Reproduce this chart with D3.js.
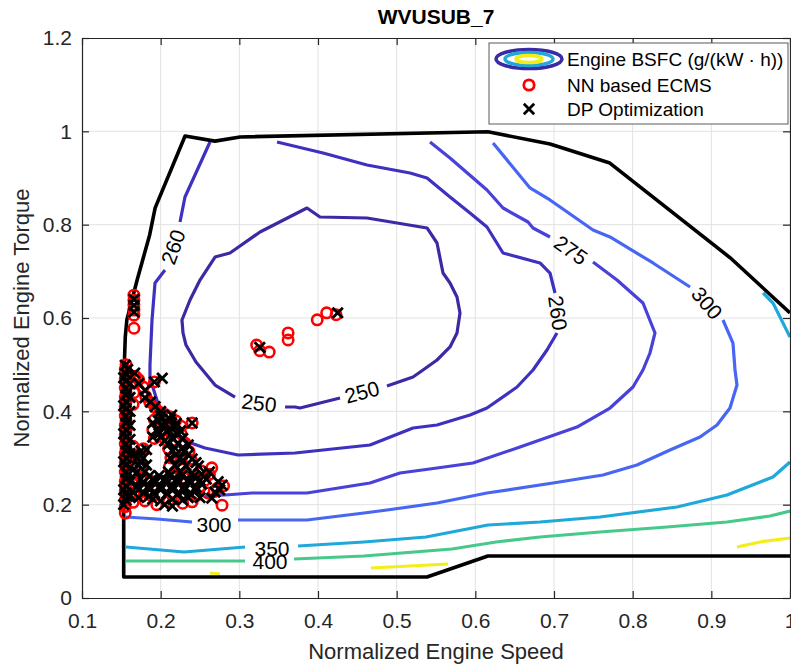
<!DOCTYPE html>
<html>
<head>
<meta charset="utf-8">
<script src="https://cdn.jsdelivr.net/npm/d3@7"></script>
<style>
  body { margin: 0; background: #fff; }
  svg { font-family: "Liberation Sans", Arial, Helvetica, sans-serif; }
</style>
</head>
<body>
<svg id="chart" width="791" height="666"></svg>
<script>
// ---- data (normalized speed, normalized torque) ----
const xTicks = [0.1, 0.2, 0.3, 0.4, 0.5, 0.6, 0.7, 0.8, 0.9, 1];
const yTicks = [0, 0.2, 0.4, 0.6, 0.8, 1, 1.2];

// engine max/min torque envelope
const envelope = [
  [1.0, 0.09], [0.616, 0.09], [0.5385, 0.045], [0.153, 0.045], [0.153, 0.25],
  [0.154, 0.51], [0.155, 0.559], [0.157, 0.596], [0.1636, 0.639], [0.17, 0.681],
  [0.186, 0.778], [0.193, 0.836], [0.231, 0.99], [0.269, 0.979], [0.301, 0.988],
  [0.616, 0.999], [0.695, 0.973], [0.771, 0.932], [0.924, 0.729], [1.0, 0.611]
];

// BSFC contour lines, split where the inline labels sit
const bsfc250 = [
  [[0.3581, 0.4093], [0.3708, 0.4093], [0.3771, 0.4071], [0.428, 0.4286]],
  [[0.4877, 0.4543], [0.5208, 0.4736], [0.5335, 0.4886], [0.5513, 0.51], [0.5678, 0.5379],
   [0.5767, 0.5679], [0.5805, 0.6107], [0.5767, 0.645], [0.5678, 0.675], [0.5589, 0.6964],
   [0.5513, 0.7607], [0.5386, 0.7929], [0.4623, 0.8143], [0.4025, 0.8164], [0.386, 0.8357],
   [0.3263, 0.7843], [0.2881, 0.7393], [0.2691, 0.7307], [0.25, 0.6814], [0.2373, 0.6386],
   [0.2271, 0.5957], [0.2284, 0.5679], [0.2322, 0.5421], [0.2449, 0.5057], [0.2691, 0.4564],
   [0.2945, 0.4307]]
];
const bsfc260 = [
  [[0.2627, 0.9771], [0.2309, 0.8593], [0.2246, 0.8057]],
  [[0.2055, 0.7029], [0.1928, 0.675], [0.189, 0.5957], [0.1864, 0.4993], [0.1864, 0.4714],
   [0.1992, 0.4029], [0.2182, 0.3557], [0.2347, 0.3343], [0.2564, 0.3214], [0.2983, 0.3064],
   [0.3708, 0.3107], [0.4661, 0.3279], [0.5208, 0.3643], [0.5513, 0.3707], [0.5932, 0.3921],
   [0.6148, 0.4071], [0.653, 0.4521], [0.6733, 0.4886], [0.6911, 0.5314], [0.7038, 0.5679]],
  [[0.7013, 0.6536], [0.6949, 0.6964], [0.6822, 0.7179], [0.6352, 0.7393], [0.6148, 0.795],
   [0.5932, 0.825], [0.5678, 0.8593], [0.5386, 0.9], [0.517, 0.9107], [0.4623, 0.9279],
   [0.4064, 0.9536], [0.3479, 0.9771]]
];
const bsfc275 = [
  [[0.5424, 0.9771], [0.5678, 0.9429], [0.6148, 0.8743], [0.6352, 0.8357], [0.667, 0.8057],
   [0.6733, 0.7929], [0.6949, 0.7736]],
  [[0.7496, 0.72], [0.7801, 0.6814], [0.8131, 0.6321], [0.8284, 0.5679], [0.822, 0.525],
   [0.8131, 0.4886], [0.8004, 0.4521], [0.7712, 0.4071], [0.7292, 0.3664], [0.6568, 0.3236],
   [0.597, 0.2893], [0.5513, 0.2786], [0.5042, 0.2679], [0.4661, 0.2464], [0.386, 0.225],
   [0.3161, 0.225], [0.2818, 0.2207], [0.2564, 0.2186]]
];
const bsfc300 = [
  [[0.6225, 0.975], [0.6695, 0.8786], [0.6949, 0.8529], [0.7496, 0.7886], [0.7712, 0.7736],
   [0.8259, 0.7179], [0.8729, 0.6664]],
  [[0.9148, 0.5957], [0.9275, 0.5464], [0.9301, 0.4886], [0.9326, 0.4564], [0.9237, 0.4071],
   [0.9072, 0.3707], [0.8856, 0.345], [0.8475, 0.3171], [0.8055, 0.285], [0.7623, 0.2636],
   [0.6987, 0.2464], [0.6148, 0.225], [0.5513, 0.2036], [0.4877, 0.1886], [0.4585, 0.1821],
   [0.386, 0.1671], [0.2983, 0.1671]],
  [[0.2398, 0.1629], [0.1953, 0.1693], [0.1559, 0.1736]]
];
const bsfc350 = [
  [[0.1559, 0.1093], [0.2297, 0.0986], [0.3072, 0.1093]],
  [[0.3746, 0.1114], [0.4585, 0.12], [0.5373, 0.1307], [0.6161, 0.1564], [0.6822, 0.1629],
   [0.7585, 0.1736], [0.8564, 0.195], [0.9199, 0.2207], [0.9784, 0.2593], [1.0, 0.2914]],
  [[0.9657, 0.6536], [0.9784, 0.6321], [0.9873, 0.6021], [1.0, 0.5593]]
];
const bsfc400 = [
  [[0.1559, 0.0793], [0.3072, 0.0793]],
  [[0.3695, 0.0836], [0.4585, 0.09], [0.5703, 0.105], [0.6263, 0.12], [0.6822, 0.1307],
   [0.7585, 0.1414], [0.8437, 0.1521], [0.9199, 0.1629], [0.9746, 0.1757], [1.0, 0.1864]]
];
const bsfc450 = [
  [[0.2627, 0.0536], [0.2754, 0.0514]],
  [[0.4674, 0.0643], [0.5653, 0.0729]],
  [[0.9326, 0.1093], [0.9619, 0.12], [1.0, 0.1286]]
];
const contourLevels = [250, 260, 275, 300, 350, 400, 450];
const contourLines = [bsfc250, bsfc260, bsfc275, bsfc300, bsfc350, bsfc400, bsfc450];

// inline contour labels: [speed, torque, text]
const labelPoints = [
  [0.325, 0.4179, "250"], [0.4559, 0.4414, "250"],
  [0.2157, 0.7521, "260"], [0.7051, 0.6107, "260"],
  [0.7216, 0.7457, "275"],
  [0.8945, 0.6321, "300"], [0.2678, 0.1586, "300"],
  [0.3415, 0.1071, "350"], [0.339, 0.0793, "400"]
];
const labelAngles = [7, -15, -70, 82, 35, 50, 0, 0, 0];

// NN based ECMS operating points
const nnPoints = [
  [0.155, 0.182], [0.155, 0.196], [0.155, 0.21], [0.156, 0.22], [0.155, 0.23], [0.156, 0.24],
  [0.155, 0.25], [0.156, 0.26], [0.155, 0.27], [0.156, 0.28], [0.155, 0.29], [0.156, 0.3],
  [0.155, 0.31], [0.156, 0.32], [0.155, 0.33], [0.156, 0.34], [0.155, 0.35], [0.156, 0.36],
  [0.155, 0.37], [0.156, 0.38], [0.155, 0.39], [0.156, 0.4], [0.155, 0.41], [0.156, 0.42],
  [0.155, 0.43], [0.156, 0.44], [0.155, 0.45], [0.156, 0.46], [0.155, 0.47], [0.156, 0.48],
  [0.155, 0.49], [0.156, 0.5],
  [0.165, 0.205], [0.166, 0.225], [0.165, 0.245], [0.167, 0.265], [0.165, 0.285], [0.166, 0.305],
  [0.165, 0.325], [0.165, 0.415], [0.166, 0.44], [0.165, 0.46], [0.168, 0.475],
  [0.166, 0.578], [0.166, 0.606], [0.166, 0.617], [0.166, 0.628], [0.166, 0.638], [0.166, 0.649],
  [0.172, 0.468], [0.178, 0.452], [0.181, 0.432], [0.186, 0.42], [0.192, 0.463], [0.193, 0.408],
  [0.199, 0.398], [0.206, 0.393], [0.213, 0.388], [0.219, 0.38], [0.24, 0.375],
  [0.192, 0.382], [0.203, 0.378], [0.214, 0.372], [0.226, 0.368],
  [0.19, 0.36], [0.201, 0.357], [0.213, 0.355], [0.226, 0.352],
  [0.192, 0.342], [0.206, 0.339], [0.218, 0.336], [0.231, 0.332],
  [0.178, 0.32], [0.21, 0.32], [0.222, 0.318], [0.236, 0.314],
  [0.172, 0.3], [0.213, 0.3], [0.226, 0.298], [0.239, 0.295],
  [0.175, 0.28], [0.211, 0.281], [0.225, 0.279], [0.24, 0.276], [0.252, 0.272],
  [0.175, 0.26], [0.188, 0.25], [0.2, 0.25], [0.215, 0.258], [0.23, 0.257], [0.245, 0.255], [0.256, 0.252],
  [0.175, 0.24], [0.19, 0.241], [0.205, 0.24], [0.22, 0.238], [0.235, 0.237], [0.25, 0.236],
  [0.17, 0.22], [0.185, 0.222], [0.2, 0.221], [0.215, 0.22], [0.23, 0.22], [0.245, 0.219],
  [0.18, 0.208], [0.21, 0.207], [0.24, 0.206], [0.195, 0.2], [0.228, 0.203],
  [0.265, 0.279], [0.262, 0.265], [0.272, 0.235], [0.278, 0.199], [0.268, 0.228], [0.26, 0.225], [0.28, 0.24],
  [0.322, 0.542], [0.326, 0.53], [0.338, 0.527], [0.362, 0.568], [0.362, 0.553],
  [0.399, 0.596], [0.411, 0.611], [0.423, 0.607]
];

// DP optimization operating points
const dpPoints = [
  [0.156, 0.21], [0.156, 0.225], [0.156, 0.24], [0.156, 0.255], [0.156, 0.27], [0.156, 0.285],
  [0.156, 0.3], [0.156, 0.315], [0.156, 0.33], [0.156, 0.345], [0.156, 0.36], [0.156, 0.375],
  [0.156, 0.39], [0.156, 0.405], [0.156, 0.42], [0.156, 0.435], [0.156, 0.45], [0.156, 0.465],
  [0.156, 0.48], [0.155, 0.499],
  [0.161, 0.22], [0.161, 0.25], [0.161, 0.28], [0.161, 0.31], [0.161, 0.34], [0.161, 0.37],
  [0.161, 0.4], [0.161, 0.43], [0.161, 0.46],
  [0.153, 0.2], [0.158, 0.218], [0.153, 0.232], [0.158, 0.263], [0.153, 0.292], [0.158, 0.322],
  [0.153, 0.352], [0.158, 0.382], [0.153, 0.412], [0.158, 0.442], [0.153, 0.472], [0.158, 0.49],
  [0.166, 0.613], [0.166, 0.627], [0.166, 0.64],
  [0.167, 0.482], [0.172, 0.46], [0.18, 0.445], [0.18, 0.429], [0.187, 0.42], [0.193, 0.41],
  [0.2, 0.4], [0.192, 0.463], [0.202, 0.471], [0.24, 0.375],
  [0.2, 0.39], [0.214, 0.392],
  [0.19, 0.375], [0.205, 0.375], [0.22, 0.374], [0.197, 0.38], [0.212, 0.383],
  [0.195, 0.36], [0.21, 0.36], [0.225, 0.358], [0.203, 0.366], [0.218, 0.366],
  [0.19, 0.345], [0.2, 0.345], [0.215, 0.344], [0.228, 0.342], [0.198, 0.352], [0.222, 0.35],
  [0.21, 0.33], [0.222, 0.33], [0.235, 0.328], [0.205, 0.337],
  [0.175, 0.315], [0.182, 0.318], [0.215, 0.315], [0.23, 0.314], [0.228, 0.322], [0.218, 0.322],
  [0.17, 0.3], [0.178, 0.3], [0.212, 0.3], [0.225, 0.3], [0.24, 0.298],
  [0.235, 0.307], [0.22, 0.308], [0.168, 0.31], [0.174, 0.292],
  [0.172, 0.285], [0.182, 0.285], [0.218, 0.285], [0.232, 0.284], [0.248, 0.283],
  [0.245, 0.29], [0.228, 0.292],
  [0.17, 0.27], [0.18, 0.27], [0.21, 0.27], [0.225, 0.27], [0.24, 0.268], [0.252, 0.266],
  [0.186, 0.262], [0.198, 0.262], [0.212, 0.262], [0.227, 0.262], [0.242, 0.26],
  [0.175, 0.255], [0.19, 0.255], [0.205, 0.255], [0.22, 0.254], [0.235, 0.253], [0.25, 0.252],
  [0.178, 0.247], [0.193, 0.247], [0.208, 0.247], [0.222, 0.246], [0.238, 0.246], [0.252, 0.244],
  [0.17, 0.24], [0.185, 0.24], [0.2, 0.24], [0.215, 0.24], [0.23, 0.239], [0.245, 0.238],
  [0.172, 0.232], [0.186, 0.232], [0.2, 0.232], [0.215, 0.231], [0.23, 0.231], [0.245, 0.23],
  [0.178, 0.225], [0.192, 0.225], [0.208, 0.224], [0.222, 0.224], [0.238, 0.223],
  [0.172, 0.215], [0.185, 0.218], [0.215, 0.212], [0.235, 0.215], [0.205, 0.2],
  [0.19, 0.212], [0.2, 0.208], [0.228, 0.21], [0.215, 0.197],
  [0.262, 0.27], [0.258, 0.255], [0.273, 0.249], [0.278, 0.242], [0.265, 0.214],
  [0.269, 0.227], [0.275, 0.232], [0.25, 0.215],
  [0.326, 0.537], [0.425, 0.611]
];

const legendLabels = ["Engine BSFC (g/(kW \u00b7 h))", "NN based ECMS", "DP Optimization"];

// ---- styles ----
const levelColor = d3.scaleOrdinal()
  .domain(contourLevels)
  .range(["#3a2aa4", "#3e31c0", "#4941d9", "#4766f2", "#1fa8da", "#47c98b", "#f2ee16"]);
const axisColor = "#262626";

const width = 791, height = 666;
const margin = { top: 38, right: 1, bottom: 68, left: 82 };

const x = d3.scaleLinear().domain([0.1, 1]).range([margin.left, width - margin.right]);
const y = d3.scaleLinear().domain([0, 1.2]).range([height - margin.bottom, margin.top]);

const svg = d3.select("#chart");

svg.append("defs").append("clipPath").attr("id", "plotClip")
  .append("rect")
  .attr("x", x(0.1)).attr("y", y(1.2))
  .attr("width", x(1) - x(0.1)).attr("height", y(0) - y(1.2));

// grid
const grid = svg.append("g").attr("stroke", "#e2e2e2").attr("stroke-width", 1);
grid.selectAll(".gx").data(xTicks.slice(1, -1)).join("line")
  .attr("x1", d => x(d)).attr("x2", d => x(d))
  .attr("y1", y(0)).attr("y2", y(1.2));
grid.selectAll(".gy").data(yTicks.slice(1, -1)).join("line")
  .attr("x1", x(0.1)).attr("x2", x(1))
  .attr("y1", d => y(d)).attr("y2", d => y(d));

const plot = svg.append("g").attr("clip-path", "url(#plotClip)");
const line = d3.line().x(d => x(d[0])).y(d => y(d[1]));

// contours
contourLines.forEach((segs, i) => {
  plot.append("g")
    .selectAll("path")
    .data(segs)
    .join("path")
    .attr("d", line)
    .attr("fill", "none")
    .attr("stroke", levelColor(contourLevels[i]))
    .attr("stroke-width", 3.2)
    .attr("stroke-linejoin", "round");
});

// envelope
plot.append("path")
  .datum(envelope)
  .attr("d", line)
  .attr("fill", "none")
  .attr("stroke", "#000")
  .attr("stroke-width", 3.6)
  .attr("stroke-linejoin", "round");

// contour labels
plot.append("g")
  .selectAll("text")
  .data(labelPoints)
  .join("text")
  .attr("transform", (d, i) => `translate(${x(d[0])},${y(d[1])}) rotate(${labelAngles[i]})`)
  .attr("text-anchor", "middle")
  .attr("dy", "0.36em")
  .attr("font-size", 21)
  .attr("fill", "#000")
  .text(d => d[2]);

// NN based ECMS circles
plot.append("g")
  .selectAll("circle")
  .data(nnPoints)
  .join("circle")
  .attr("cx", d => x(d[0]))
  .attr("cy", d => y(d[1]))
  .attr("r", 5.2)
  .attr("fill", "none")
  .attr("stroke", "#ff0000")
  .attr("stroke-width", 2.6);

// DP crosses
const cross = d3.symbol().type(d3.symbolX).size(72);
plot.append("g")
  .selectAll("path")
  .data(dpPoints)
  .join("path")
  .attr("transform", d => `translate(${x(d[0])},${y(d[1])})`)
  .attr("d", cross)
  .attr("fill", "none")
  .attr("stroke", "#000")
  .attr("stroke-width", 2.8);

// axes
function styleAxis(g) {
  g.select(".domain").attr("stroke", axisColor).attr("stroke-width", 1.2);
  g.selectAll(".tick line").attr("stroke", axisColor).attr("stroke-width", 1.2);
  g.selectAll(".tick text").attr("fill", axisColor).attr("font-size", 21)
    .attr("font-family", "Liberation Sans, Arial, sans-serif");
}
const fmt = d3.format("~g");
svg.append("g").attr("transform", `translate(0,${y(0)})`)
  .call(d3.axisBottom(x).tickValues(xTicks).tickFormat(fmt).tickSizeInner(-7).tickSizeOuter(0).tickPadding(15))
  .call(styleAxis);
svg.append("g").attr("transform", `translate(${x(0.1)},0)`)
  .call(d3.axisLeft(y).tickValues(yTicks).tickFormat(fmt).tickSizeInner(-7).tickSizeOuter(0).tickPadding(10))
  .call(styleAxis);
svg.append("g").attr("transform", `translate(0,${y(1.2)})`)
  .call(d3.axisTop(x).tickValues(xTicks).tickFormat("").tickSizeInner(-7).tickSizeOuter(0))
  .call(styleAxis);
svg.append("g").attr("transform", `translate(${x(1)},0)`)
  .call(d3.axisRight(y).tickValues(yTicks).tickFormat("").tickSizeInner(-7).tickSizeOuter(0))
  .call(styleAxis);

// titles
svg.append("text")
  .attr("x", (x(0.1) + x(1)) / 2).attr("y", 24)
  .attr("text-anchor", "middle")
  .attr("font-size", 21).attr("font-weight", "bold").attr("fill", "#000")
  .text("WVUSUB_7");
svg.append("text")
  .attr("x", (x(0.1) + x(1)) / 2).attr("y", 659)
  .attr("text-anchor", "middle")
  .attr("font-size", 22).attr("fill", axisColor)
  .text("Normalized Engine Speed");
svg.append("text")
  .attr("transform", `translate(29,${(y(0) + y(1.2)) / 2}) rotate(-90)`)
  .attr("text-anchor", "middle")
  .attr("font-size", 22).attr("fill", axisColor)
  .text("Normalized Engine Torque");

// legend
const lg = svg.append("g").attr("transform", "translate(489,43)");
lg.append("rect")
  .attr("width", 299).attr("height", 81)
  .attr("fill", "#fff").attr("stroke", "#5a5a5a").attr("stroke-width", 1);
const icon = lg.append("g").attr("transform", "translate(40,16)");
[[33, 9.5, 250], [24, 6.5, 350], [13, 3.5, 450]].forEach(e => {
  icon.append("ellipse")
    .attr("rx", e[0]).attr("ry", e[1])
    .attr("fill", "none")
    .attr("stroke", levelColor(e[2]))
    .attr("stroke-width", 3.5);
});
lg.append("circle").attr("cx", 40).attr("cy", 42).attr("r", 5.2)
  .attr("fill", "none").attr("stroke", "#ff0000").attr("stroke-width", 2.8);
lg.append("path").attr("transform", "translate(40,66)").attr("d", cross)
  .attr("fill", "none").attr("stroke", "#000").attr("stroke-width", 2.8);
lg.selectAll(".lt").data(legendLabels).join("text")
  .attr("x", 78).attr("y", (d, i) => [16, 42, 66][i])
  .attr("dy", "0.35em")
  .attr("font-size", 19).attr("fill", "#000")
  .text(d => d);
</script>
</body>
</html>
